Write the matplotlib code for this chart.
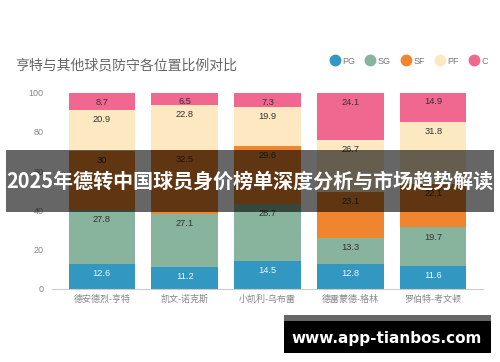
import matplotlib.pyplot as plt
from matplotlib.lines import Line2D
from matplotlib.patches import Rectangle
import numpy as np

plt.rcParams['font.family'] = ['Liberation Sans', 'Noto Sans CJK SC', 'DejaVu Sans']

# 数据
players = ["德安德烈-亨特", "凯文-诺克斯", "小凯利-乌布雷", "德雷蒙德-格林", "罗伯特-考文顿"]
positions = ["PG", "SG", "SF", "PF", "C"]
pg = [12.6, 11.2, 14.5, 12.8, 11.6]
sg = [27.8, 27.1, 28.7, 13.3, 19.7]
sf = [30, 32.5, 29.6, 23.1, 22.1]
pf = [20.9, 22.8, 19.9, 26.7, 31.8]
c = [8.7, 6.5, 7.3, 24.1, 14.9]
series = [pg, sg, sf, pf, c]

colors = ['#3398c1', '#88b39c', '#f0852f', '#fce8c1', '#f0688f']
label_colors = ['#eef6fa', '#333333', '#333333', '#333333', '#333333']

fig = plt.figure(figsize=(5, 3.62), dpi=100)
ax = fig.add_axes([52/500, 73/362, 431/500, 196.5/362])

x = np.arange(len(players))
bottom = np.zeros(len(players))
for vals, col, lc in zip(series, colors, label_colors):
    ax.bar(x, vals, bottom=bottom, color=col, width=0.8)
    # 标签放在每段顶部内侧
    for xi, b, v in zip(x, bottom, vals):
        ax.annotate(f"{v:g}", xy=(xi, b + v), xytext=(0, -6.9), textcoords='offset points',
                    ha='center', va='center', fontsize=6.7, color=lc)
    bottom += np.array(vals)

ax.set_xlim(-0.6, 4.6)
ax.set_ylim(0, 100)
ax.set_yticks([0, 20, 40, 60, 80, 100])
ax.set_xticks(x)
ax.set_xticklabels(players)
ax.tick_params(axis='both', length=0, labelsize=6.5, colors='#888888')
ax.tick_params(axis='y', pad=6)
ax.tick_params(axis='x', pad=4)
for s in ['top', 'right', 'left']:
    ax.spines[s].set_visible(False)
ax.spines['bottom'].set_color('#cccccc')

# 标题
fig.text(15/500, 1 - 65/362, "亨特与其他球员防守各位置比例对比", fontsize=10,
         color='#666666', va='center', ha='left')

# 图例
handles = [Line2D([], [], marker='o', linestyle='', markersize=7.5, color=col) for col in colors]
fig.legend(handles, positions, ncol=5, loc='center right', bbox_to_anchor=(496/500, 1 - 61/362),
           frameon=False, fontsize=6.5, labelcolor='#777777', handlelength=1.0,
           handletextpad=0.3, columnspacing=1.2)

# 横幅
fig.patches.append(Rectangle((6/500, (362-212)/362), 488/500, 62/362, transform=fig.transFigure,
                             facecolor='black', alpha=0.6, zorder=10))
fig.text(0.5, 0.5, "2025年德转中国球员身价榜单深度分析与市场趋势解读", fontsize=14.4,
         fontweight='bold', color='white', ha='center', va='center', zorder=11,
         family=['Noto Sans CJK SC', 'DejaVu Sans'])

# 水印
fig.patches.append(Rectangle((284/500, (362-353)/362), 207/500, 38/362, transform=fig.transFigure,
                             facecolor='#666666', zorder=10))
fig.patches.append(Rectangle((284/500, (362-353)/362), 207/500, 32/362, transform=fig.transFigure,
                             facecolor='black', zorder=11))
fig.text(387/500, 1 - 338/362, "www.app-tianbos.com", fontsize=11, fontweight='bold',
         color='white', ha='center', va='center', zorder=12, family='DejaVu Sans')

fig.savefig('out.png', dpi=100)
